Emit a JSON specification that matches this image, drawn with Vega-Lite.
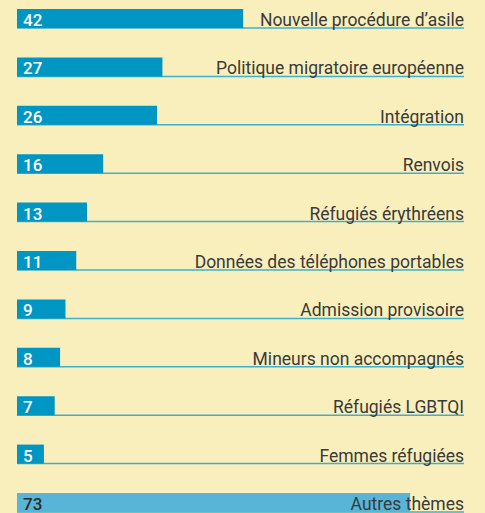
{
  "$schema": "https://vega.github.io/schema/vega-lite/v6.json",
  "autosize": "none",
  "width": 447,
  "height": 503,
  "padding": {"left": 17, "top": 9, "right": 21, "bottom": 1},
  "background": "#f8efbc",
  "config": {"view": {"stroke": null}},
  "data": {"values": [
    {"theme": "Nouvelle procédure d’asile", "n": 42, "groupe": "thème"},
    {"theme": "Politique migratoire européenne", "n": 27, "groupe": "thème"},
    {"theme": "Intégration", "n": 26, "groupe": "thème"},
    {"theme": "Renvois", "n": 16, "groupe": "thème"},
    {"theme": "Réfugiés érythréens", "n": 13, "groupe": "thème"},
    {"theme": "Données des téléphones portables", "n": 11, "groupe": "thème"},
    {"theme": "Admission provisoire", "n": 9, "groupe": "thème"},
    {"theme": "Mineurs non accompagnés", "n": 8, "groupe": "thème"},
    {"theme": "Réfugiés LGBTQI", "n": 7, "groupe": "thème"},
    {"theme": "Femmes réfugiées", "n": 5, "groupe": "thème"},
    {"theme": "Autres thèmes", "n": 73, "groupe": "autres"}
  ]},
  "encoding": {
    "y": {"field": "theme", "type": "nominal", "sort": null, "axis": null,
          "scale": {"paddingInner": 0.607, "paddingOuter": 0}}
  },
  "layer": [
    {
      "mark": {"type": "rule", "strokeWidth": 1.5, "color": "#3fb0c9"},
      "encoding": {
        "y": {"field": "theme", "type": "nominal", "sort": null, "bandPosition": 1},
        "x": {"datum": 0, "type": "quantitative", "scale": {"domain": [0, 83], "nice": false, "zero": true}, "axis": null},
        "x2": {"datum": 83}
      }
    },
    {
      "mark": {"type": "bar"},
      "encoding": {
        "x": {"field": "n", "type": "quantitative", "scale": {"domain": [0, 83], "nice": false}, "axis": null},
        "color": {"field": "groupe", "type": "nominal", "legend": null,
                  "scale": {"domain": ["thème", "autres"], "range": ["#0096c3", "#58b5d8"]}}
      }
    },
    {
      "mark": {"type": "text", "align": "left", "baseline": "alphabetic", "dx": 6, "dy": -2,
               "font": "Roboto", "fontSize": 17, "fontWeight": 500},
      "encoding": {
        "y": {"field": "theme", "type": "nominal", "sort": null, "bandPosition": 1},
        "x": {"datum": 0, "type": "quantitative"},
        "text": {"field": "n", "type": "quantitative"},
        "color": {"field": "groupe", "type": "nominal", "legend": null,
                  "scale": {"domain": ["thème", "autres"], "range": ["#ffffff", "#2b2b2b"]}}
      }
    },
    {
      "mark": {"type": "text", "align": "right", "baseline": "alphabetic", "dy": -2,
               "font": "Roboto", "fontSize": 17.5, "color": "#3a3a3a"},
      "encoding": {
        "y": {"field": "theme", "type": "nominal", "sort": null, "bandPosition": 1},
        "x": {"datum": 83, "type": "quantitative"},
        "text": {"field": "theme", "type": "nominal"}
      }
    }
  ],
  "resolve": {"scale": {"color": "independent"}}
}
